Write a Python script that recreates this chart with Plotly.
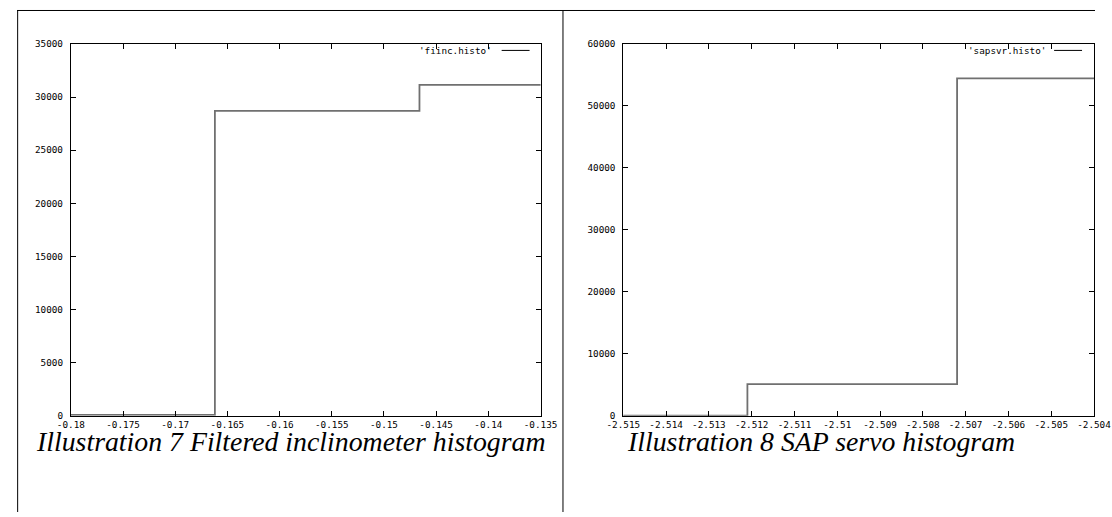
import plotly.graph_objects as go

# ---- data ----
fiinc_x = [-0.1800, -0.1662, -0.1466, -0.1270]
fiinc_y = [80, 28700, 31150, 31150]
sapsvr_x = [-2.5168, -2.5121, -2.5072, -2.5023]
sapsvr_y = [0, 5100, 54450, 54450]

left_xticks = [-0.18, -0.175, -0.17, -0.165, -0.16, -0.155, -0.15, -0.145, -0.14, -0.135]
left_xtext = ["-0.18", "-0.175", "-0.17", "-0.165", "-0.16", "-0.155", "-0.15", "-0.145", "-0.14", "-0.135"]
left_yticks = [0, 5000, 10000, 15000, 20000, 25000, 30000, 35000]
right_xticks = [-2.515, -2.514, -2.513, -2.512, -2.511, -2.510, -2.509, -2.508, -2.507, -2.506, -2.505, -2.504]
right_xtext = ["-2.515", "-2.514", "-2.513", "-2.512", "-2.511", "-2.51", "-2.509", "-2.508", "-2.507", "-2.506", "-2.505", "-2.504"]
right_yticks = [0, 10000, 20000, 30000, 40000, 50000, 60000]

captions = ["Illustration 7 Filtered inclinometer histogram", "Illustration 8 SAP servo histogram"]
legend_names = ["'fiinc.histo'", "'sapsvr.histo'"]

W, H = 1112, 517
# observed placement of the figure paper inside the photographed page
OX, OY, PW, PH = 16.0, 5.0, 1081.0, 507.0
def px(x): return min(max((x - OX) / PW, 0.0), 1.0)
def py(y): return min(max(1 - (y - OY) / PH, 0.0), 1.0)

tickfont = dict(family="DejaVu Sans Mono", size=9.3, color="#000")
line_col = "#707070"

fig = go.Figure()
fig.add_trace(go.Scatter(x=fiinc_x, y=fiinc_y, mode="lines", line=dict(shape="hv", color=line_col, width=1.8),
                         xaxis="x", yaxis="y", showlegend=False, name=legend_names[0]))
fig.add_trace(go.Scatter(x=sapsvr_x, y=sapsvr_y, mode="lines", line=dict(shape="hv", color=line_col, width=1.8),
                         xaxis="x2", yaxis="y2", showlegend=False, name=legend_names[1]))

ydom = [py(415.5), py(43)]
common = dict(showline=True, linecolor="#000", linewidth=1, mirror="allticks", ticks="inside",
              ticklen=5, tickcolor="#000", tickwidth=1, showgrid=False, zeroline=False,
              tickfont=tickfont, tickmode="array")

fig.update_layout(
    width=W, height=H, autosize=False, margin=dict(l=0, r=0, t=0, b=0, pad=0),
    paper_bgcolor="white", plot_bgcolor="white",
    xaxis=dict(domain=[px(70), px(541)], range=[-0.18, -0.135], anchor="y",
               tickvals=left_xticks, ticktext=left_xtext, **common),
    yaxis=dict(domain=ydom, range=[0, 35000], anchor="x", ticklabelstandoff=5,
               tickvals=left_yticks, ticktext=[str(v) for v in left_yticks], **common),
    xaxis2=dict(domain=[px(624), px(1096)], range=[-2.515, -2.504], anchor="y2",
                tickvals=right_xticks, ticktext=right_xtext, **common),
    yaxis2=dict(domain=ydom, range=[0, 60000], anchor="x2", ticklabelstandoff=5,
                tickvals=right_yticks, ticktext=[str(v) for v in right_yticks], **common),
)

shapes = []
# page frame lines
shapes.append(dict(type="line", xref="paper", yref="paper", x0=0, x1=1, y0=py(9.5), y1=py(9.5),
                   line=dict(color="#000", width=1)))
shapes.append(dict(type="line", xref="paper", yref="paper", x0=0.0006, x1=0.0006, y0=0, y1=py(9.5),
                   line=dict(color="#000", width=1)))
shapes.append(dict(type="line", xref="paper", yref="paper", x0=px(563.5), x1=px(563.5), y0=0, y1=py(9.5),
                   line=dict(color="#000", width=1)))
# legend sample lines
shapes.append(dict(type="line", xref="paper", yref="paper", x0=px(502), x1=px(530), y0=py(49.5), y1=py(49.5),
                   line=dict(color="#000", width=1)))
shapes.append(dict(type="line", xref="paper", yref="paper", x0=px(1056), x1=px(1084), y0=py(49.5), y1=py(49.5),
                   line=dict(color="#000", width=1)))
fig.update_layout(shapes=shapes)

annotations = [
    dict(text=legend_names[0], xref="paper", yref="paper", x=px(494), y=py(49.5), xanchor="right", yanchor="middle",
         showarrow=False, font=tickfont),
    dict(text=legend_names[1], xref="paper", yref="paper", x=px(1050), y=py(49.5), xanchor="right", yanchor="middle",
         showarrow=False, font=tickfont),
    dict(text="<i>" + captions[0] + "</i>", xref="paper", yref="paper", x=px(291), y=py(441), xanchor="center",
         yanchor="middle", showarrow=False, font=dict(family="Liberation Serif", size=27.8, color="#000")),
    dict(text="<i>" + captions[1] + "</i>", xref="paper", yref="paper", x=px(822), y=py(441), xanchor="center",
         yanchor="middle", showarrow=False, font=dict(family="Liberation Serif", size=27.8, color="#000")),
]
fig.update_layout(annotations=annotations)

fig.write_html("out.html",
               post_script="document.body.style.margin='0';document.body.style.overflow='hidden';")
